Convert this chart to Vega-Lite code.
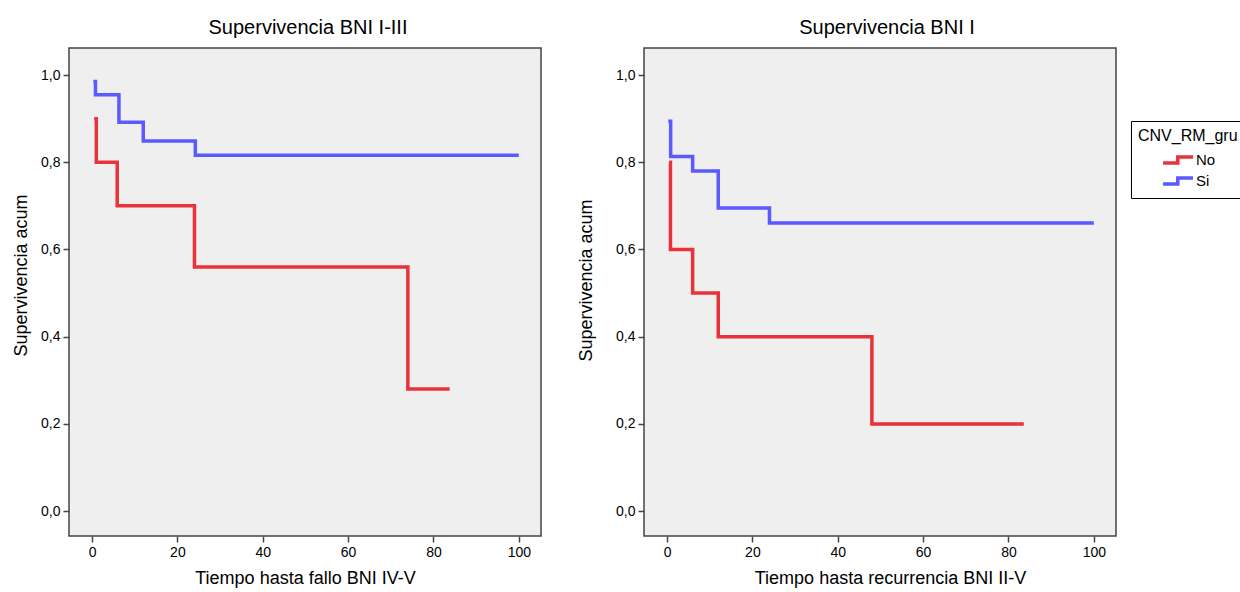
{
  "$schema": "https://vega.github.io/schema/vega-lite/v6.json",
  "padding": {"left": 11, "top": 17, "right": 0, "bottom": 0},
  "background": "white",
  "spacing": 34,
  "datasets": {
    "km": [
      {"panel": "A", "grupo": "Si", "t": 0.3, "s": 0.985},
      {"panel": "A", "grupo": "Si", "t": 0.8, "s": 0.955},
      {"panel": "A", "grupo": "Si", "t": 6.3, "s": 0.892},
      {"panel": "A", "grupo": "Si", "t": 12, "s": 0.849},
      {"panel": "A", "grupo": "Si", "t": 24.2, "s": 0.816},
      {"panel": "A", "grupo": "Si", "t": 100, "s": 0.816},
      {"panel": "A", "grupo": "No", "t": 0.5, "s": 0.9},
      {"panel": "A", "grupo": "No", "t": 1, "s": 0.8},
      {"panel": "A", "grupo": "No", "t": 5.9, "s": 0.7},
      {"panel": "A", "grupo": "No", "t": 24, "s": 0.56},
      {"panel": "A", "grupo": "No", "t": 74, "s": 0.28},
      {"panel": "A", "grupo": "No", "t": 83.8, "s": 0.28},
      {"panel": "B", "grupo": "Si", "t": 0.3, "s": 0.894},
      {"panel": "B", "grupo": "Si", "t": 0.85, "s": 0.813},
      {"panel": "B", "grupo": "Si", "t": 6, "s": 0.78},
      {"panel": "B", "grupo": "Si", "t": 12, "s": 0.695},
      {"panel": "B", "grupo": "Si", "t": 24, "s": 0.661},
      {"panel": "B", "grupo": "Si", "t": 100, "s": 0.661},
      {"panel": "B", "grupo": "No", "t": 0.5, "s": 0.8},
      {"panel": "B", "grupo": "No", "t": 0.8, "s": 0.6},
      {"panel": "B", "grupo": "No", "t": 6, "s": 0.5},
      {"panel": "B", "grupo": "No", "t": 12, "s": 0.4},
      {"panel": "B", "grupo": "No", "t": 48, "s": 0.2},
      {"panel": "B", "grupo": "No", "t": 83.6, "s": 0.2}
    ]
  },
  "config": {
    "font": "Liberation Sans",
    "view": {"fill": "#efefef", "stroke": "#444444", "strokeWidth": 1.5},
    "axis": {
      "grid": false,
      "domain": false,
      "tickColor": "#444444",
      "tickSize": 6,
      "tickWidth": 1.5,
      "labelFont": "Liberation Sans",
      "labelFontSize": 14,
      "labelColor": "#000000",
      "titleFont": "Liberation Sans",
      "titleFontSize": 18,
      "titleFontWeight": "normal",
      "titleColor": "#000000",
      "labelPadding": 3
    },
    "title": {"font": "Liberation Sans", "fontSize": 20, "fontWeight": "normal", "color": "#000000", "offset": 10}
  },
  "hconcat": [
    {
      "width": 472,
      "height": 488,
      "title": {"text": "Supervivencia BNI I-III", "dx": 3},
      "data": {"name": "km"},
      "transform": [{"filter": "datum.panel == 'A'"}],
      "mark": {"type": "line", "interpolate": "step-after", "strokeWidth": 3.5, "strokeCap": "butt"},
      "encoding": {
        "x": {"field": "t", "type": "quantitative", "scale": {"domain": [-5.4, 105.2], "nice": false, "zero": false},
              "axis": {"values": [0, 20, 40, 60, 80, 100], "title": "Tiempo hasta fallo BNI IV-V", "titlePadding": 10}},
        "y": {"field": "s", "type": "quantitative", "scale": {"domain": [-0.057, 1.062], "nice": false, "zero": false},
              "axis": {"values": [0, 0.2, 0.4, 0.6, 0.8, 1], "labelExpr": "replace(format(datum.value, '.1f'), '.', ',')", "title": "Supervivencia acum", "titlePadding": 10, "titleY": 227}},
        "color": {"field": "grupo", "type": "nominal", "scale": {"domain": ["No", "Si"], "range": ["#e8333a", "#5a5aff"]},
                  "legend": {
                    "title": "CNV_RM_gru", "orient": "none", "legendX": 1062, "legendY": 73,
                    "strokeColor": "#000000", "fillColor": "#ffffff", "padding": 7, "cornerRadius": 0,
                    "titleFont": "Liberation Sans", "titleFontSize": 16, "titleFontWeight": "normal", "titleColor": "#000000", "titlePadding": 5,
                    "labelFont": "Liberation Sans", "labelFontSize": 15, "labelColor": "#000000", "labelOffset": 36,
                    "symbolType": "M 1.56 0.33 H 3.2 V -0.33 H 4.89", "symbolSize": 324, "symbolStrokeWidth": 3.5, "rowPadding": 0,
                    "encode": {"symbols": {"update": {"fill": {"value": "transparent"}}}}
                  }}
      }
    },
    {
      "width": 472,
      "height": 488,
      "title": {"text": "Supervivencia BNI I", "dx": 7},
      "data": {"name": "km"},
      "transform": [{"filter": "datum.panel == 'B'"}],
      "mark": {"type": "line", "interpolate": "step-after", "strokeWidth": 3.5, "strokeCap": "butt"},
      "encoding": {
        "x": {"field": "t", "type": "quantitative", "scale": {"domain": [-5.4, 105.2], "nice": false, "zero": false},
              "axis": {"values": [0, 20, 40, 60, 80, 100], "title": "Tiempo hasta recurrencia BNI II-V", "titlePadding": 10, "titleX": 246}},
        "y": {"field": "s", "type": "quantitative", "scale": {"domain": [-0.057, 1.062], "nice": false, "zero": false},
              "axis": {"values": [0, 0.2, 0.4, 0.6, 0.8, 1], "labelExpr": "replace(format(datum.value, '.1f'), '.', ',')", "title": "Supervivencia acum", "titlePadding": 20, "titleY": 232}},
        "color": {"field": "grupo", "type": "nominal", "scale": {"domain": ["No", "Si"], "range": ["#e8333a", "#5a5aff"]}}
      }
    }
  ]
}
